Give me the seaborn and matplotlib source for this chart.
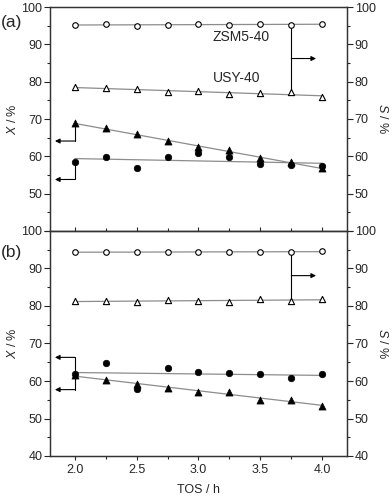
import numpy as np
import pandas as pd
import matplotlib
matplotlib.use("Agg")
import matplotlib.pyplot as plt
import seaborn as sns

sns.set_style("ticks")
plt.rcParams["font.family"] = ["Liberation Sans", "DejaVu Sans"]
plt.rcParams["mathtext.fontset"] = "custom"
plt.rcParams["mathtext.it"] = "Liberation Sans:italic"
plt.rcParams["mathtext.rm"] = "Liberation Sans"

# ---- data ----
tos = [2.0, 2.25, 2.5, 2.75, 3.0, 3.25, 3.5, 3.75, 4.0]

# panel (a)
a_S_zsm5 = [95.2, 95.4, 95.0, 95.1, 95.4, 95.3, 95.4, 95.3, 95.4]
a_S_usy = [78.5, 78.3, 78.0, 77.1, 77.4, 76.7, 76.9, 77.1, 75.9]
a_X_usy = [68.8, 67.5, 66.0, 64.0, 62.4, 61.6, 59.5, 58.4, 56.8]
a_X_zsm5 = [58.6, 59.9, 56.9, 59.8, 60.9, 59.8, 58.0, 57.6, 57.4]

# panel (b)
b_S_zsm5 = [94.4, 94.35, 94.35, 94.35, 94.5, 94.4, 94.4, 94.4, 94.6]
b_S_usy = [81.2, 81.4, 81.1, 81.6, 81.3, 81.1, 81.9, 81.4, 81.8]
b_X_usy = [61.6, 60.3, 59.2, 58.1, 57.0, 57.2, 54.9, 54.9, 53.4]
b_X_zsm5 = [62.0, 64.7, 57.9, 63.4, 62.3, 62.1, 61.8, 60.9, 61.8]

labels_a = ["ZSM5-40", "USY-40"]
yticks = [40, 50, 60, 70, 80, 90, 100]
xticks = [2.0, 2.5, 3.0, 3.5, 4.0]

W, H = 392, 498
fig = plt.figure(figsize=(W / 100, H / 100), dpi=100)
left, right = 50 / W, 347 / W
ya_top, mid, yb_bot = 1 - 7 / H, 1 - 231 / H, 1 - 456 / H
axa = fig.add_axes([left, mid, right - left, ya_top - mid])
axb = fig.add_axes([left, yb_bot, right - left, mid - yb_bot])

line_kw = dict(color="#8c8c8c", lw=0.9)
FS = 9
AXW = 297.0


def draw_panel(ax, S1, S2, X1, X2):
    for ys in (S1, S2, X1, X2):
        sns.regplot(x=tos, y=ys, ax=ax, scatter=False, ci=None,
                    line_kws=line_kw, truncate=True)
    ax.scatter(tos, S1, marker="o", s=16, facecolor="white",
               edgecolor="black", linewidth=0.8, zorder=5)
    ax.scatter(tos, S2, marker="^", s=20, facecolor="white",
               edgecolor="black", linewidth=0.8, zorder=5)
    ax.scatter(tos, X2, marker="o", s=22, facecolor="black",
               edgecolor="black", linewidth=0.5, zorder=5)
    ax.scatter(tos, X1, marker="^", s=26, facecolor="black",
               edgecolor="black", linewidth=0.5, zorder=5)
    ax.set_xlim(1.8, 4.2)
    ax.set_ylim(40, 100)
    ax.set_yticks(yticks)
    ax.set_yticks(np.arange(45, 100, 10), minor=True)
    ax.set_xticks(xticks)
    ax.set_xticks([2.25, 2.75, 3.25, 3.75], minor=True)
    for s in ax.spines.values():
        s.set_visible(True)
        s.set_linewidth(0.9)
        s.set_color("#333333")
    ax.tick_params(axis="y", which="major", direction="out", length=4,
                   width=0.8, labelsize=FS, left=True, right=False, pad=1.5)
    ax.tick_params(axis="y", which="minor", direction="out", length=2.5,
                   width=0.8, left=True, right=False)
    ax2 = ax.twinx()
    ax2.set_ylim(40, 100)
    ax2.set_yticks(yticks)
    ax2.set_yticks(np.arange(45, 100, 10), minor=True)
    ax2.tick_params(axis="y", which="major", direction="out", length=4,
                    width=0.8, labelsize=FS, pad=1.5)
    ax2.tick_params(axis="y", which="minor", direction="out", length=2.5,
                    width=0.8)
    for s in ax2.spines.values():
        s.set_linewidth(0.9)
        s.set_color("#333333")
    ax.set_ylabel("$\\mathit{X}$ / %", fontsize=FS, va="center",
                  ha="center")
    ax.yaxis.set_label_coords((12 - 50) / AXW, 0.5)
    ax2.set_ylabel("$\\mathit{S}$ / %", fontsize=FS, rotation=270,
                   va="center", ha="center")
    ax2.yaxis.set_label_coords((383 - 50) / AXW, 0.5)
    return ax2


arrow = dict(arrowstyle="-|>", color="black", lw=0.8, mutation_scale=7,
             shrinkA=0, shrinkB=0)

# ---- panel (a) ----
axa2 = draw_panel(axa, a_S_zsm5, a_S_usy, a_X_usy, a_X_zsm5)
axa.tick_params(axis="x", which="both", direction="in", labelbottom=False,
                length=3, width=0.8)
axa.tick_params(axis="x", which="minor", length=2)
axa.set_yticklabels([""] + [str(v) for v in yticks[1:]])
axa2.set_yticklabels([""] + [str(v) for v in yticks[1:]])
axa.text(3.34, 92.0, labels_a[0], fontsize=10, ha="center", va="center")
axa.text(3.31, 81.0, labels_a[1], fontsize=10, ha="center", va="center")
fig.text(1 / W, 1 - 23 / H, "(a)", fontsize=12.5, ha="left", va="center")
# right-pointing arrow for S
axa.plot([3.75, 3.75], [a_S_zsm5[7], a_S_usy[7]], color="black", lw=0.8)
axa.annotate("", xy=(3.95, 86.2), xytext=(3.75, 86.2), arrowprops=arrow)
# left-pointing arrows for X
axa.plot([2.0, 2.0], [a_X_usy[0], 64.1], color="black", lw=0.8)
axa.annotate("", xy=(1.84, 64.1), xytext=(2.0, 64.1), arrowprops=arrow)
axa.plot([2.0, 2.0], [a_X_zsm5[0], 53.8], color="black", lw=0.8)
axa.annotate("", xy=(1.84, 53.8), xytext=(2.0, 53.8), arrowprops=arrow)

# ---- panel (b) ----
axb2 = draw_panel(axb, b_S_zsm5, b_S_usy, b_X_usy, b_X_zsm5)
axb.tick_params(axis="x", which="major", direction="out", length=3,
                width=0.8, labelsize=FS, pad=3)
axb.tick_params(axis="x", which="minor", direction="out", length=2,
                width=0.8)
axb.set_xticklabels([f"{v:.1f}" for v in xticks])
axb.set_xlabel("TOS / h", fontsize=FS, va="center")
axb.xaxis.set_label_coords(0.5, -(490 - 456) / 225.0)
fig.text(1 / W, 1 - 252 / H, "(b)", fontsize=12.5, ha="left", va="center")
axb.plot([3.75, 3.75], [b_S_zsm5[7], b_S_usy[7]], color="black", lw=0.8)
axb.annotate("", xy=(3.95, 88.1), xytext=(3.75, 88.1), arrowprops=arrow)
axb.plot([2.0, 2.0], [66.3, 57.7], color="black", lw=0.8)
axb.annotate("", xy=(1.84, 66.3), xytext=(2.0, 66.3), arrowprops=arrow)
axb.annotate("", xy=(1.84, 57.7), xytext=(2.0, 57.7), arrowprops=arrow)

fig.savefig("out.png", dpi=100)
